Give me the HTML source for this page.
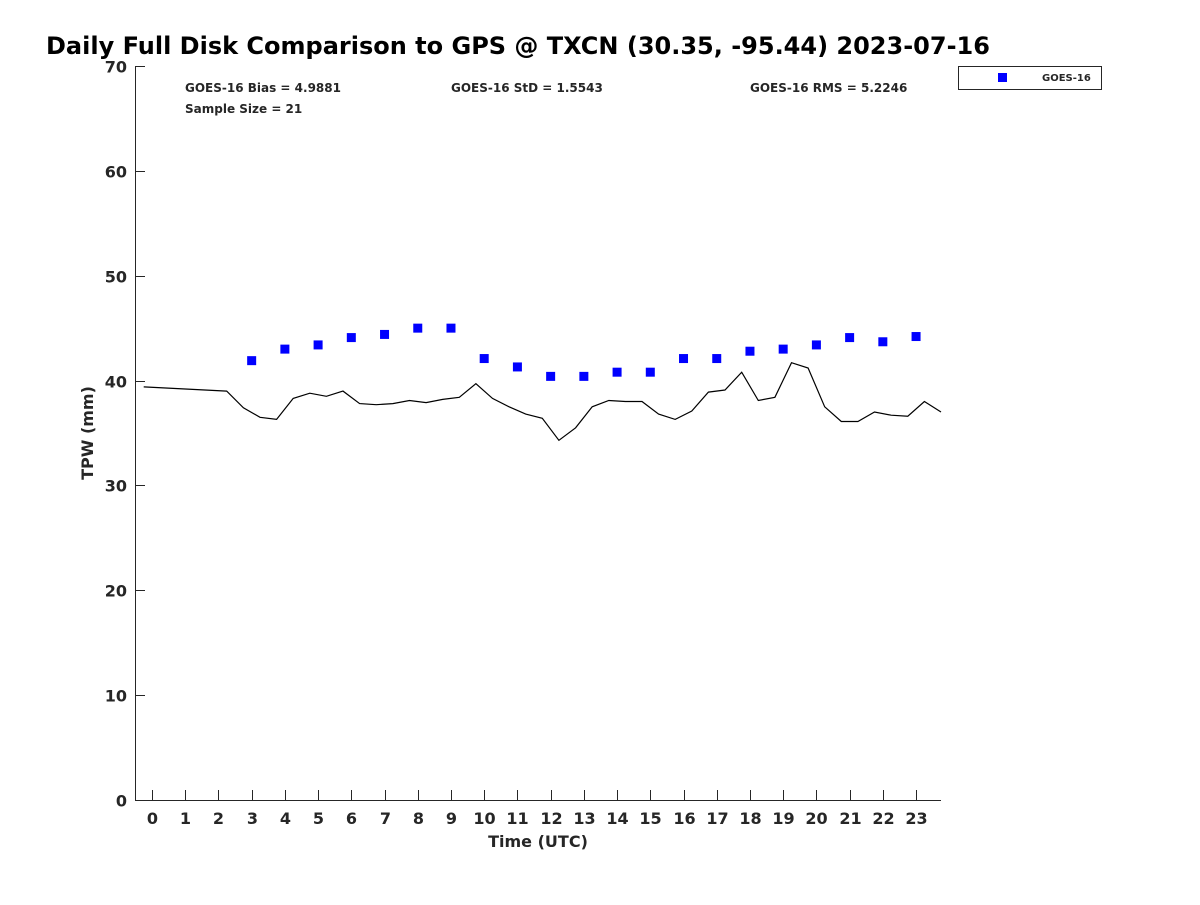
<!DOCTYPE html>
<html><head><meta charset="utf-8"><style>
body{margin:0;background:#fff}
text{font-family:"DejaVu Sans","Liberation Sans",sans-serif;font-weight:bold;fill:#262626}
</style></head><body>
<svg id="c" width="1200" height="900" xmlns="http://www.w3.org/2000/svg">
<text x="46" y="54" font-size="24" style="fill:#000">Daily Full Disk Comparison to GPS @ TXCN (30.35, -95.44) 2023-07-16</text>
<g id="axes"></g>
<text x="185" y="92" font-size="12">GOES-16 Bias = 4.9881</text>
<text x="451" y="92" font-size="12">GOES-16 StD = 1.5543</text>
<text x="750" y="92" font-size="12">GOES-16 RMS = 5.2246</text>
<text x="185" y="113" font-size="12">Sample Size = 21</text>
<text x="538" y="847" font-size="16" text-anchor="middle">Time (UTC)</text>
<text transform="translate(93,433) rotate(-90)" font-size="16" text-anchor="middle">TPW (mm)</text>
<g>
<rect x="958.5" y="66.5" width="143" height="23" fill="#fff" stroke="#262626"/>
<rect x="998" y="73" width="9" height="9" fill="#0000ff"/>
<text x="1042" y="81" font-size="10">GOES-16</text>
</g>
</svg>
<script>
const gpsTimes=[-0.25,2.25,2.75,3.25,3.75,4.25,4.75,5.25,5.75,6.25,6.75,7.25,7.75,8.25,8.75,9.25,9.75,10.25,10.75,11.25,11.75,12.25,12.75,13.25,13.75,14.25,14.75,15.25,15.75,16.25,16.75,17.25,17.75,18.25,18.75,19.25,19.75,20.25,20.75,21.25,21.75,22.25,22.75,23.25,23.75];
const gpsValues=[39.4,39.0,37.4,36.5,36.3,38.3,38.8,38.5,39.0,37.8,37.7,37.8,38.1,37.9,38.2,38.4,39.7,38.3,37.5,36.8,36.4,34.3,35.5,37.5,38.1,38.0,38.0,36.8,36.3,37.1,38.9,39.1,40.8,38.1,38.4,41.7,41.2,37.5,36.1,36.1,37.0,36.7,36.6,38.0,37.0];
const goesTimes=[3,4,5,6,7,8,9,10,11,12,13,14,15,16,17,18,19,20,21,22,23];
const goesValues=[41.9,43.0,43.4,44.1,44.4,45.0,45.0,42.1,41.3,40.4,40.4,40.8,40.8,42.1,42.1,42.8,43.0,43.4,44.1,43.7,44.2];
const xTicks=[0,1,2,3,4,5,6,7,8,9,10,11,12,13,14,15,16,17,18,19,20,21,22,23];
const yTicks=[0,10,20,30,40,50,60,70];
const NS="http://www.w3.org/2000/svg";
const svg=document.getElementById('c');
const xs=t=>152+t*33.22;
const ys=v=>800-v*(734/70);
function mk(tag,attrs,parent){const e=document.createElementNS(NS,tag);for(const k in attrs)e.setAttribute(k,attrs[k]);(parent||svg).appendChild(e);return e;}
const ax=document.getElementById('axes');
const yl=mk('line',{x1:135.5,y1:66,x2:135.5,y2:800,stroke:'#262626'},ax);


const xl=mk('line',{x1:135,y1:800.5,x2:941,y2:800.5,stroke:'#262626'},ax);


yTicks.forEach(v=>{const y=Math.round(ys(v))+0.5;
const tk=mk('line',{x1:135,y1:y,x2:145,y2:y,stroke:'#262626'},ax);


const t=mk('text',{x:127,y:y+6,'font-size':16,'text-anchor':'end'},ax);t.textContent=v;

});
xTicks.forEach(v=>{const x=Math.round(xs(v))+0.5;
const tk=mk('line',{x1:x,y1:790,x2:x,y2:800,stroke:'#262626'},ax);


const t=mk('text',{x:x,y:824,'font-size':16,'text-anchor':'middle'},ax);t.textContent=v;

});
const pts=gpsTimes.map((t,i)=>xs(t).toFixed(1)+','+ys(gpsValues[i]).toFixed(1)).join(' ');
const pl=mk('polyline',{points:pts,fill:'none',stroke:'#000','stroke-width':1.2});


goesTimes.forEach((t,i)=>{const r=mk('rect',{x:xs(t)-4.5,y:ys(goesValues[i])-4.5,width:9,height:9,fill:'#0000ff'});

});
</script>
</body></html>
